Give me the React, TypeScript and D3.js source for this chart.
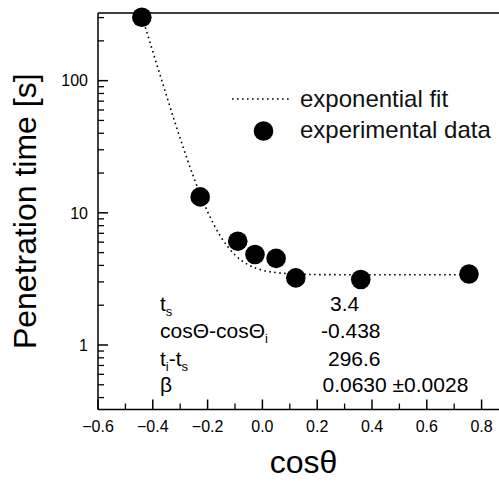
import * as d3 from "d3";
import { useRef, useEffect } from "react";

// experimental points
const cosTheta = [-0.44, -0.227, -0.09, -0.027, 0.05, 0.122, 0.359, 0.754];
const penTime = [302, 13.2, 6.1, 4.84, 4.52, 3.22, 3.13, 3.44];

// dotted fit curve, read along its path
const fitX = [-0.438, -0.4, -0.35, -0.3, -0.25, -0.2, -0.15, -0.1, -0.05, 0.0, 0.05, 0.1, 0.2, 0.4, 0.6, 0.76];
const fitY = [300, 166, 77, 36.6, 18.4, 10.2, 6.5, 4.8, 4.03, 3.68, 3.53, 3.46, 3.41, 3.4, 3.4, 3.4];

const xTicks = [-0.6, -0.4, -0.2, 0.0, 0.2, 0.4, 0.6, 0.8];
const yTicks = [1, 10, 100];

const legendLabels = ["exponential fit", "experimental data"];

const paramNames = ["t_s", "cosΘ-cosΘ_i", "t_i-t_s", "β"];
const paramValues = ["3.4", "-0.438", "296.6", "0.0630 ±0.0028"];

const FONT = "'Liberation Sans', Arial, sans-serif";

function PenetrationChart() {
  const svgRef = useRef<SVGSVGElement>(null);

  useEffect(() => {
    const WIDTH = 499;
    const HEIGHT = 481;
    const left = 98, right = 509, top = 13, bottom = 409.5;

    const svg = d3.select(svgRef.current)
      .attr("width", WIDTH)
      .attr("height", HEIGHT);
    svg.selectAll("*").remove();

    const x = d3.scaleLinear().domain([-0.6, 0.9]).range([left, right]);
    const y = d3.scaleLog().domain([0.325, 325]).range([bottom, top]);

    const g = svg.append("g").style("font-family", FONT);

    // minor ticks on y
    const minor: number[] = [];
    for (let k = -1; k <= 2; k++) {
      for (let m = 2; m <= 9; m++) {
        const v = m * Math.pow(10, k);
        if (v > 0.325 && v < 325) minor.push(v);
      }
    }
    g.append("g").selectAll("line")
      .data(minor)
      .join("line")
      .attr("x1", left).attr("x2", left + 6)
      .attr("y1", d => y(d)).attr("y2", d => y(d))
      .attr("stroke", "black").attr("stroke-width", 1.3);

    g.append("g").selectAll("line")
      .data(yTicks)
      .join("line")
      .attr("x1", left).attr("x2", left + 10)
      .attr("y1", d => y(d)).attr("y2", d => y(d))
      .attr("stroke", "black").attr("stroke-width", 1.5);

    g.append("g").selectAll("text")
      .data(yTicks)
      .join("text")
      .attr("x", left - 10)
      .attr("y", d => y(d) + 5.8)
      .attr("text-anchor", "end")
      .attr("font-size", 16)
      .text(d => String(d));

    // x ticks
    const xMinor = d3.range(-0.5, 0.9, 0.2);
    g.append("g").selectAll("line")
      .data(xMinor)
      .join("line")
      .attr("x1", d => x(d)).attr("x2", d => x(d))
      .attr("y1", bottom).attr("y2", bottom - 6)
      .attr("stroke", "black").attr("stroke-width", 1.3);

    g.append("g").selectAll("line")
      .data(xTicks)
      .join("line")
      .attr("x1", d => x(d)).attr("x2", d => x(d))
      .attr("y1", bottom).attr("y2", bottom - 10)
      .attr("stroke", "black").attr("stroke-width", 1.5);

    g.append("g").selectAll("text")
      .data(xTicks)
      .join("text")
      .attr("x", d => x(d))
      .attr("y", 432)
      .attr("text-anchor", "middle")
      .attr("font-size", 16)
      .text(d => d3.format(".1f")(d));

    // frame
    g.append("line").attr("x1", left).attr("x2", right).attr("y1", top).attr("y2", top)
      .attr("stroke", "black").attr("stroke-width", 1.5);
    g.append("line").attr("x1", left).attr("x2", right).attr("y1", bottom).attr("y2", bottom)
      .attr("stroke", "black").attr("stroke-width", 1.5);
    g.append("line").attr("x1", left).attr("x2", left).attr("y1", top).attr("y2", bottom)
      .attr("stroke", "black").attr("stroke-width", 1.5);

    // fit curve
    const line = d3.line<number>()
      .x((d, i) => x(fitX[i]))
      .y(d => y(d))
      .curve(d3.curveMonotoneX);
    g.append("path")
      .attr("d", line(fitY))
      .attr("fill", "none")
      .attr("stroke", "black")
      .attr("stroke-width", 1.6)
      .attr("stroke-dasharray", "1.6,3.4");

    // data points
    g.append("g").selectAll("circle")
      .data(cosTheta)
      .join("circle")
      .attr("cx", d => x(d))
      .attr("cy", (d, i) => y(penTime[i]))
      .attr("r", 9.8)
      .attr("fill", "black");

    // legend
    g.append("line")
      .attr("x1", 232).attr("x2", 292).attr("y1", 99).attr("y2", 99)
      .attr("stroke", "black").attr("stroke-width", 1.6)
      .attr("stroke-dasharray", "1.6,3.4");
    g.append("circle").attr("cx", 263.5).attr("cy", 131).attr("r", 9.8).attr("fill", "black");
    g.append("g").selectAll("text")
      .data(legendLabels)
      .join("text")
      .attr("x", 300)
      .attr("y", (d, i) => 107 + i * 30.5)
      .attr("font-size", 24)
      .attr("fill", "#111")
      .text(d => d);

    // parameter table, subscripts as lowered tspans
    const rowY = [311, 338, 366, 392];
    paramNames.forEach((name, i) => {
      const t = g.append("text")
        .attr("x", 160)
        .attr("y", rowY[i])
        .attr("font-size", 21);
      let lowered = false;
      name.split(/(_[a-z])/).forEach(p => {
        if (!p) return;
        if (p.startsWith("_")) {
          t.append("tspan").attr("font-size", 13).attr("dy", 5).text(p.slice(1));
          lowered = true;
        } else {
          t.append("tspan").attr("dy", lowered ? -5 : 0).text(p);
          lowered = false;
        }
      });
    });
    const valueX = [330, 321, 328, 322.5];
    g.append("g").selectAll("text")
      .data(paramValues)
      .join("text")
      .attr("x", (d, i) => valueX[i])
      .attr("y", (d, i) => rowY[i] - 0.5)
      .attr("font-size", 21)
      .text(d => d);

    // axis titles
    g.append("text")
      .attr("transform", `translate(36, ${(top + bottom) / 2}) rotate(-90)`)
      .attr("text-anchor", "middle")
      .attr("font-size", 32)
      .text("Penetration time [s]");
    g.append("text")
      .attr("x", (left + right) / 2)
      .attr("y", 473)
      .attr("text-anchor", "middle")
      .attr("font-size", 32)
      .text("cosθ");
  }, []);

  return (
    <svg ref={svgRef} style={{ position: "absolute", left: 0, top: 0, background: "white" }} />
  );
}

export default function App() {
  return <PenetrationChart />;
}
